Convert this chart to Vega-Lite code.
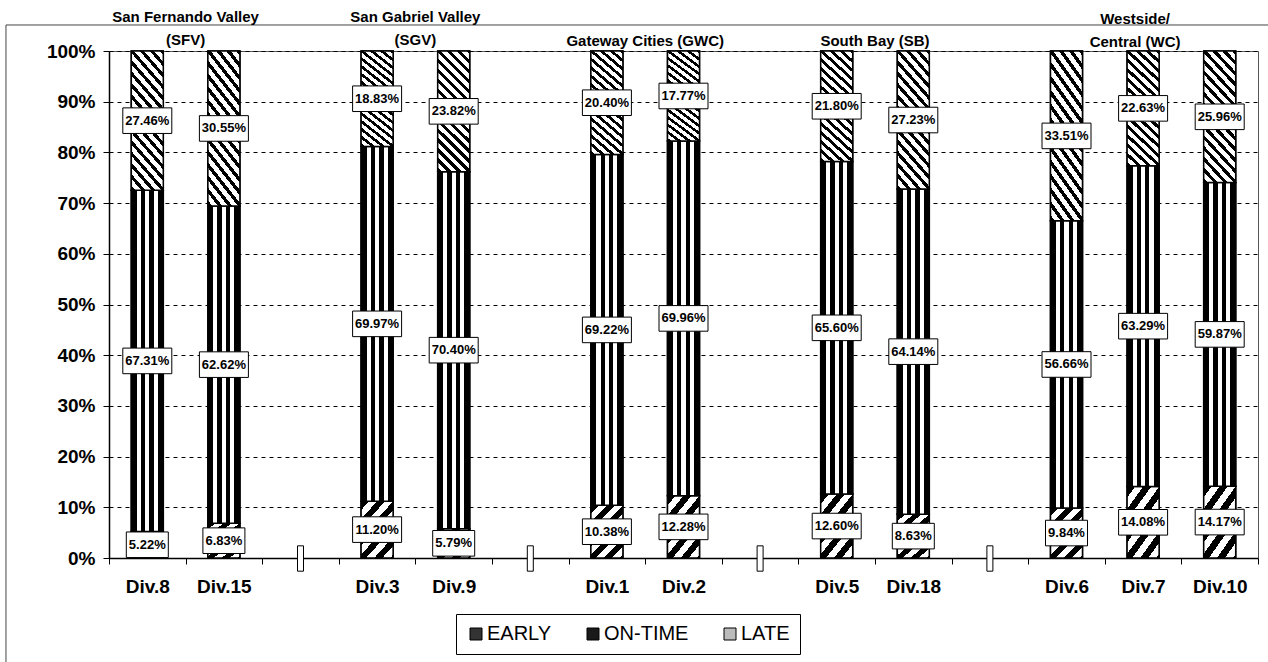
{
  "$schema": "https://vega.github.io/schema/vega-lite/v6.json",
  "width": 1149,
  "height": 507,
  "autosize": {"type": "none"},
  "padding": {"left": 109, "top": 51, "right": 10, "bottom": 104},
  "background": "white",
  "config": {
    "font": "Liberation Sans",
    "view": {"stroke": "#555", "strokeWidth": 1},
    "axis": {"labelFontSize": 19, "labelFontWeight": "bold", "labelColor": "black", "tickColor": "black", "tickSize": 6, "domainColor": "black", "domainWidth": 1.5},
    "axisX": {"labelAngle": 0, "labelPadding": 13, "grid": false, "tickBand": "extent"},
    "axisY": {"labelPadding": 8, "grid": true, "gridColor": "black", "gridDash": [4, 4], "gridWidth": 1, "gridOpacity": 1}
  },
  "datasets": {
    "bars": [
      {"div": "Div.8", "status": "EARLY", "o": 1, "value": 0.0522},
      {"div": "Div.8", "status": "ON-TIME", "o": 2, "value": 0.6731},
      {"div": "Div.8", "status": "LATE", "o": 3, "value": 0.2746},
      {"div": "Div.15", "status": "EARLY", "o": 1, "value": 0.0683},
      {"div": "Div.15", "status": "ON-TIME", "o": 2, "value": 0.6262},
      {"div": "Div.15", "status": "LATE", "o": 3, "value": 0.3055},
      {"div": "Div.3", "status": "EARLY", "o": 1, "value": 0.1120},
      {"div": "Div.3", "status": "ON-TIME", "o": 2, "value": 0.6997},
      {"div": "Div.3", "status": "LATE", "o": 3, "value": 0.1883},
      {"div": "Div.9", "status": "EARLY", "o": 1, "value": 0.0579},
      {"div": "Div.9", "status": "ON-TIME", "o": 2, "value": 0.7040},
      {"div": "Div.9", "status": "LATE", "o": 3, "value": 0.2382},
      {"div": "Div.1", "status": "EARLY", "o": 1, "value": 0.1038},
      {"div": "Div.1", "status": "ON-TIME", "o": 2, "value": 0.6922},
      {"div": "Div.1", "status": "LATE", "o": 3, "value": 0.2040},
      {"div": "Div.2", "status": "EARLY", "o": 1, "value": 0.1228},
      {"div": "Div.2", "status": "ON-TIME", "o": 2, "value": 0.6996},
      {"div": "Div.2", "status": "LATE", "o": 3, "value": 0.1777},
      {"div": "Div.5", "status": "EARLY", "o": 1, "value": 0.1260},
      {"div": "Div.5", "status": "ON-TIME", "o": 2, "value": 0.6560},
      {"div": "Div.5", "status": "LATE", "o": 3, "value": 0.2180},
      {"div": "Div.18", "status": "EARLY", "o": 1, "value": 0.0863},
      {"div": "Div.18", "status": "ON-TIME", "o": 2, "value": 0.6414},
      {"div": "Div.18", "status": "LATE", "o": 3, "value": 0.2723},
      {"div": "Div.6", "status": "EARLY", "o": 1, "value": 0.0984},
      {"div": "Div.6", "status": "ON-TIME", "o": 2, "value": 0.5666},
      {"div": "Div.6", "status": "LATE", "o": 3, "value": 0.3351},
      {"div": "Div.7", "status": "EARLY", "o": 1, "value": 0.1408},
      {"div": "Div.7", "status": "ON-TIME", "o": 2, "value": 0.6329},
      {"div": "Div.7", "status": "LATE", "o": 3, "value": 0.2263},
      {"div": "Div.10", "status": "EARLY", "o": 1, "value": 0.1417},
      {"div": "Div.10", "status": "ON-TIME", "o": 2, "value": 0.5987},
      {"div": "Div.10", "status": "LATE", "o": 3, "value": 0.2596}
    ],
    "gaps": [
      {"div": "g1", "lo": -0.026, "hi": 0.024},
      {"div": "g2", "lo": -0.026, "hi": 0.024},
      {"div": "g3", "lo": -0.026, "hi": 0.024},
      {"div": "g4", "lo": -0.026, "hi": 0.024}
    ],
    "titlesTwoLine": [
      {"anchor": "Div.8", "label": "San Fernando Valley\n(SFV)"},
      {"anchor": "Div.3", "label": "San Gabriel Valley\n(SGV)"}
    ],
    "titlesOneLine": [
      {"anchor": "Div.1", "label": "Gateway Cities (GWC)"},
      {"anchor": "Div.5", "label": "South Bay (SB)"}
    ],
    "titlesWC": [
      {"anchor": "Div.7", "label": "Westside/\nCentral (WC)"}
    ]
  },
  "data": {"name": "bars"},
  "resolve": {"axis": {"x": "independent", "y": "independent"}},
  "layer": [
    {
      "mark": {"type": "bar", "size": 32, "stroke": "black", "strokeWidth": 1.5},
      "encoding": {
        "x": {"field": "div", "type": "nominal", "sort": null, "title": null,
          "scale": {"domain": ["Div.8","Div.15","g1","Div.3","Div.9","g2","Div.1","Div.2","g3","Div.5","Div.18","g4","Div.6","Div.7","Div.10"], "paddingInner": 0, "paddingOuter": 0},
          "axis": {"labelExpr": "isString(datum.value) ? (indexof(datum.value, 'g') === 0 ? '' : datum.value) : ''"}},
        "y": {"field": "value", "type": "quantitative", "stack": "zero", "title": null,
          "scale": {"domain": [0, 1], "nice": false},
          "axis": {"values": [0,0.1,0.2,0.3,0.4,0.5,0.6,0.7,0.8,0.9,1], "format": ".0%"}},
        "order": {"field": "o", "type": "quantitative"},
        "color": {"field": "status", "type": "nominal",
          "scale": {"domain": ["EARLY","ON-TIME","LATE"], "range": ["#333333","#1a1a1a","#bbbbbb"]},
          "legend": {"title": null, "orient": "none", "legendX": 347, "legendY": 563, "direction": "horizontal", "strokeColor": "black", "fillColor": "white", "padding": 10, "symbolType": "square", "symbolSize": 144, "symbolStrokeColor": "black", "symbolStrokeWidth": 1, "labelFontSize": 20, "labelColor": "black", "labelOffset": 1, "columnPadding": 31}}
      }
    },
    {
      "mark": {"type": "bar", "size": 32, "stroke": "black", "strokeWidth": 1.5},
      "encoding": {
        "x": {"field": "div", "type": "nominal", "sort": null, "axis": null},
        "y": {"field": "value", "type": "quantitative", "stack": "zero", "axis": null},
        "order": {"field": "o", "type": "quantitative"},
        "detail": {"field": "status"},
        "fill": {
          "condition": [
            {"test": "datum.status === 'EARLY'", "value": {"gradient": "linear", "x1": 0, "y1": 0, "x2": 0.732, "y2": 1.168, "stops": [
              {"offset": 0, "color": "#000"}, {"offset": 0.0965, "color": "#000"}, {"offset": 0.0965, "color": "#fff"},
              {"offset": 0.193, "color": "#fff"}, {"offset": 0.193, "color": "#000"}, {"offset": 0.2895, "color": "#000"}, {"offset": 0.2895, "color": "#fff"},
              {"offset": 0.386, "color": "#fff"}, {"offset": 0.386, "color": "#000"}, {"offset": 0.4825, "color": "#000"}, {"offset": 0.4825, "color": "#fff"},
              {"offset": 0.579, "color": "#fff"}, {"offset": 0.579, "color": "#000"}, {"offset": 0.6755, "color": "#000"}, {"offset": 0.6755, "color": "#fff"},
              {"offset": 0.772, "color": "#fff"}, {"offset": 0.772, "color": "#000"}, {"offset": 0.8685, "color": "#000"}, {"offset": 0.8685, "color": "#fff"},
              {"offset": 0.965, "color": "#fff"}, {"offset": 0.965, "color": "#000"}, {"offset": 1, "color": "#000"}
            ]}},
            {"test": "datum.status === 'ON-TIME'", "value": {"gradient": "linear", "x1": 0, "y1": 0, "x2": 1, "y2": 0, "stops": [
              {"offset": 0, "color": "#000"}, {"offset": 0.17, "color": "#000"}, {"offset": 0.17, "color": "#fff"},
              {"offset": 0.3, "color": "#fff"}, {"offset": 0.3, "color": "#000"}, {"offset": 0.435, "color": "#000"}, {"offset": 0.435, "color": "#fff"},
              {"offset": 0.565, "color": "#fff"}, {"offset": 0.565, "color": "#000"}, {"offset": 0.7, "color": "#000"}, {"offset": 0.7, "color": "#fff"},
              {"offset": 0.83, "color": "#fff"}, {"offset": 0.83, "color": "#000"}, {"offset": 1, "color": "#000"}
            ]}}
          ],
          "value": {"gradient": "linear", "x1": 0, "y1": 1, "x2": 0.311, "y2": -0.181, "stops": [
            {"offset": 0, "color": "#000"}, {"offset": 0.028, "color": "#000"}, {"offset": 0.028, "color": "#fff"},
            {"offset": 0.0651, "color": "#fff"}, {"offset": 0.0651, "color": "#000"}, {"offset": 0.0931, "color": "#000"}, {"offset": 0.0931, "color": "#fff"},
            {"offset": 0.1302, "color": "#fff"}, {"offset": 0.1302, "color": "#000"}, {"offset": 0.1582, "color": "#000"}, {"offset": 0.1582, "color": "#fff"},
            {"offset": 0.1953, "color": "#fff"}, {"offset": 0.1953, "color": "#000"}, {"offset": 0.2233, "color": "#000"}, {"offset": 0.2233, "color": "#fff"},
            {"offset": 0.2604, "color": "#fff"}, {"offset": 0.2604, "color": "#000"}, {"offset": 0.2884, "color": "#000"}, {"offset": 0.2884, "color": "#fff"},
            {"offset": 0.3255, "color": "#fff"}, {"offset": 0.3255, "color": "#000"}, {"offset": 0.3535, "color": "#000"}, {"offset": 0.3535, "color": "#fff"},
            {"offset": 0.3906, "color": "#fff"}, {"offset": 0.3906, "color": "#000"}, {"offset": 0.4186, "color": "#000"}, {"offset": 0.4186, "color": "#fff"},
            {"offset": 0.4557, "color": "#fff"}, {"offset": 0.4557, "color": "#000"}, {"offset": 0.4837, "color": "#000"}, {"offset": 0.4837, "color": "#fff"},
            {"offset": 0.5208, "color": "#fff"}, {"offset": 0.5208, "color": "#000"}, {"offset": 0.5488, "color": "#000"}, {"offset": 0.5488, "color": "#fff"},
            {"offset": 0.5859, "color": "#fff"}, {"offset": 0.5859, "color": "#000"}, {"offset": 0.6139, "color": "#000"}, {"offset": 0.6139, "color": "#fff"},
            {"offset": 0.651, "color": "#fff"}, {"offset": 0.651, "color": "#000"}, {"offset": 0.679, "color": "#000"}, {"offset": 0.679, "color": "#fff"},
            {"offset": 0.7161, "color": "#fff"}, {"offset": 0.7161, "color": "#000"}, {"offset": 0.7441, "color": "#000"}, {"offset": 0.7441, "color": "#fff"},
            {"offset": 0.7812, "color": "#fff"}, {"offset": 0.7812, "color": "#000"}, {"offset": 0.8092, "color": "#000"}, {"offset": 0.8092, "color": "#fff"},
            {"offset": 0.8463, "color": "#fff"}, {"offset": 0.8463, "color": "#000"}, {"offset": 0.8743, "color": "#000"}, {"offset": 0.8743, "color": "#fff"},
            {"offset": 0.9114, "color": "#fff"}, {"offset": 0.9114, "color": "#000"}, {"offset": 0.9394, "color": "#000"}, {"offset": 0.9394, "color": "#fff"},
            {"offset": 0.9765, "color": "#fff"}, {"offset": 0.9765, "color": "#000"}, {"offset": 1, "color": "#000"}
          ]}
        }
      }
    },
    {
      "data": {"name": "gaps"},
      "mark": {"type": "bar", "size": 6, "fill": "white", "stroke": "black", "strokeWidth": 1},
      "encoding": {
        "x": {"field": "div", "type": "nominal", "sort": null, "axis": null},
        "y": {"field": "lo", "type": "quantitative", "axis": null},
        "y2": {"field": "hi"}
      }
    },
    {
      "mark": {"type": "point", "filled": true, "fill": "white", "stroke": "black", "strokeWidth": 1, "opacity": 1, "size": 400},
      "encoding": {
        "x": {"field": "div", "type": "nominal", "sort": null, "axis": null},
        "y": {"field": "value", "type": "quantitative", "stack": "zero", "bandPosition": 0.5, "axis": null},
        "order": {"field": "o", "type": "quantitative"},
        "detail": {"field": "status"},
        "shape": {"condition": {"test": "datum.value < 0.1", "value": "M-2.1,-1.28H2.1V1.28H-2.1Z"}, "value": "M-2.45,-1.28H2.45V1.28H-2.45Z"}
      }
    },
    {
      "mark": {"type": "text", "fontSize": 13, "fontWeight": "bold", "color": "black", "align": "center", "baseline": "middle"},
      "encoding": {
        "x": {"field": "div", "type": "nominal", "sort": null, "axis": null},
        "y": {"field": "value", "type": "quantitative", "stack": "zero", "bandPosition": 0.5, "axis": null},
        "order": {"field": "o", "type": "quantitative"},
        "detail": {"field": "status"},
        "text": {"field": "value", "type": "quantitative", "format": ".2%"}
      }
    },
    {
      "data": {"values": [{}]},
      "mark": {"type": "rule", "stroke": "#444", "strokeWidth": 1},
      "encoding": {
        "x": {"datum": "Div.8", "type": "nominal", "bandPosition": -1.345, "axis": null},
        "y": {"datum": 1.0513, "type": "quantitative", "axis": null},
        "y2": {"datum": -0.5}
      }
    },
    {
      "data": {"values": [{}]},
      "mark": {"type": "rule", "stroke": "#444", "strokeWidth": 1},
      "encoding": {
        "x": {"datum": "Div.8", "type": "nominal", "bandPosition": -1.345, "axis": null},
        "x2": {"datum": "Div.10", "bandPosition": 1.5},
        "y": {"datum": 1.0513, "type": "quantitative", "axis": null}
      }
    },
    {
      "data": {"name": "titlesTwoLine"},
      "mark": {"type": "text", "fontSize": 15, "fontWeight": "bold", "color": "black", "align": "center", "baseline": "bottom", "lineBreak": "\n", "lineHeight": 23, "dy": -26},
      "encoding": {
        "x": {"field": "anchor", "type": "nominal", "sort": null, "bandPosition": 1, "axis": null},
        "y": {"datum": 1, "type": "quantitative", "axis": null},
        "text": {"field": "label", "type": "nominal"}
      }
    },
    {
      "data": {"name": "titlesOneLine"},
      "mark": {"type": "text", "fontSize": 15, "fontWeight": "bold", "color": "black", "align": "center", "baseline": "bottom", "dy": -2},
      "encoding": {
        "x": {"field": "anchor", "type": "nominal", "sort": null, "bandPosition": 1, "axis": null},
        "y": {"datum": 1, "type": "quantitative", "axis": null},
        "text": {"field": "label", "type": "nominal"}
      }
    },
    {
      "data": {"name": "titlesWC"},
      "mark": {"type": "text", "fontSize": 15, "fontWeight": "bold", "color": "black", "align": "center", "baseline": "bottom", "lineBreak": "\n", "lineHeight": 23, "dy": -24, "dx": -8},
      "encoding": {
        "x": {"field": "anchor", "type": "nominal", "sort": null, "axis": null},
        "y": {"datum": 1, "type": "quantitative", "axis": null},
        "text": {"field": "label", "type": "nominal"}
      }
    }
  ]
}
